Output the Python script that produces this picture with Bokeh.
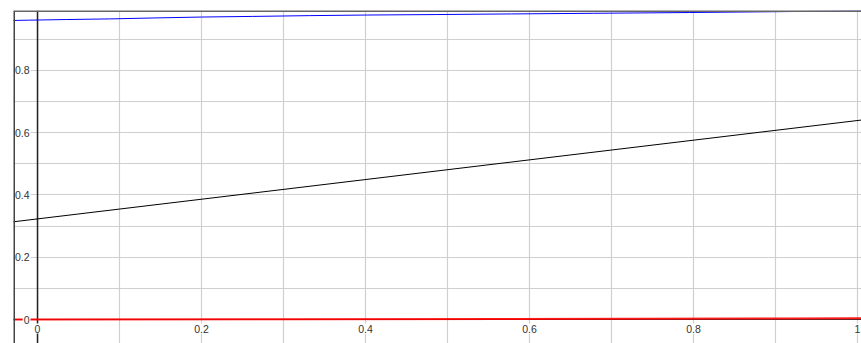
from bokeh.plotting import figure
from bokeh.models import Range1d, Grid, FixedTicker, Span, ColumnDataSource
from bokeh.core.properties import value
from bokeh.embed import file_html
from bokeh.resources import INLINE

# ---- data ----
x_ticks = [0, 0.2, 0.4, 0.6, 0.8, 1.0]
x_tick_labels = ["0", "0.2", "0.4", "0.6", "0.8", "1"]
y_ticks = [0, 0.2, 0.4, 0.6, 0.8]
y_tick_labels = ["0", "0.2", "0.4", "0.6", "0.8"]
grid_x = [-0.1, 0.0, 0.1, 0.2, 0.3, 0.4, 0.5, 0.6, 0.7, 0.8, 0.9, 1.0]
grid_y = [-0.1, 0.0, 0.1, 0.2, 0.3, 0.4, 0.5, 0.6, 0.7, 0.8, 0.9, 1.0]

blue_x = [-0.03, -0.011, 0.035, 0.088, 0.141, 0.2, 0.262, 0.332, 0.402,
          0.487, 0.578, 0.678, 0.795, 0.933, 1.01]
blue_y = [0.960, 0.961, 0.963, 0.965, 0.968, 0.971, 0.973, 0.9755, 0.9775,
          0.979, 0.981, 0.983, 0.9855, 0.989, 0.991]

black_x = [-0.03, 1.01]
black_y = [0.3135, 0.642]

red_x = [-0.03, 0.3, 0.92, 1.01]
red_y = [0.0, 0.001, 0.003, 0.004]

FONT = "Liberation Sans"

xr = Range1d(-0.0293, 1.0049)
yr = Range1d(-0.077, 0.992)

p = figure(width=861, height=343, output_backend="svg", toolbar_location=None,
           x_axis_location=None, y_axis_location=None,
           x_range=xr, y_range=yr,
           min_border_left=13, min_border_top=10, min_border_right=0, min_border_bottom=0,
           background_fill_color="white", border_fill_color="white")
p.outline_line_color = None

p.add_layout(Grid(dimension=0, ticker=FixedTicker(ticks=grid_x),
                  grid_line_color="#cfcfcf", grid_line_width=1.2))
p.add_layout(Grid(dimension=1, ticker=FixedTicker(ticks=grid_y),
                  grid_line_color="#cfcfcf", grid_line_width=1.2))

# frame border: left and top only
p.add_layout(Span(location=xr.start, dimension="height", line_color="#444444",
                  line_width=3))
p.add_layout(Span(location=yr.end, dimension="width", line_color="#666666",
                  line_width=3))

p.add_layout(Span(location=0, dimension="height", line_color="#222222",
                  line_width=1.5, level="underlay"))
p.add_layout(Span(location=0, dimension="width", line_color="#333333",
                  line_width=1, level="underlay"))

p.line(black_x, black_y, line_color="black", line_width=1)
p.line(blue_x, blue_y, line_color="#0000ff", line_width=1)
p.line(red_x, red_y, line_color="#ff0000", line_width=2, line_alpha=0.9)

xs = ColumnDataSource(dict(x=x_ticks, y=[0] * len(x_ticks), t=x_tick_labels))
p.text(x="x", y="y", text="t", source=xs, text_align="center",
       text_baseline="middle", y_offset=9, text_font=value(FONT),
       text_font_size="10.5px", text_color="#333333",
       background_fill_color="white", padding=1)

ys = ColumnDataSource(dict(x=[0] * len(y_ticks), y=y_ticks, t=y_tick_labels))
p.text(x="x", y="y", text="t", source=ys, text_align="right",
       text_baseline="middle", x_offset=-7, text_font=value(FONT),
       text_font_size="10.5px", text_color="#333333",
       background_fill_color="white", padding=1)

open("out.html", "w").write(file_html(p, INLINE))
